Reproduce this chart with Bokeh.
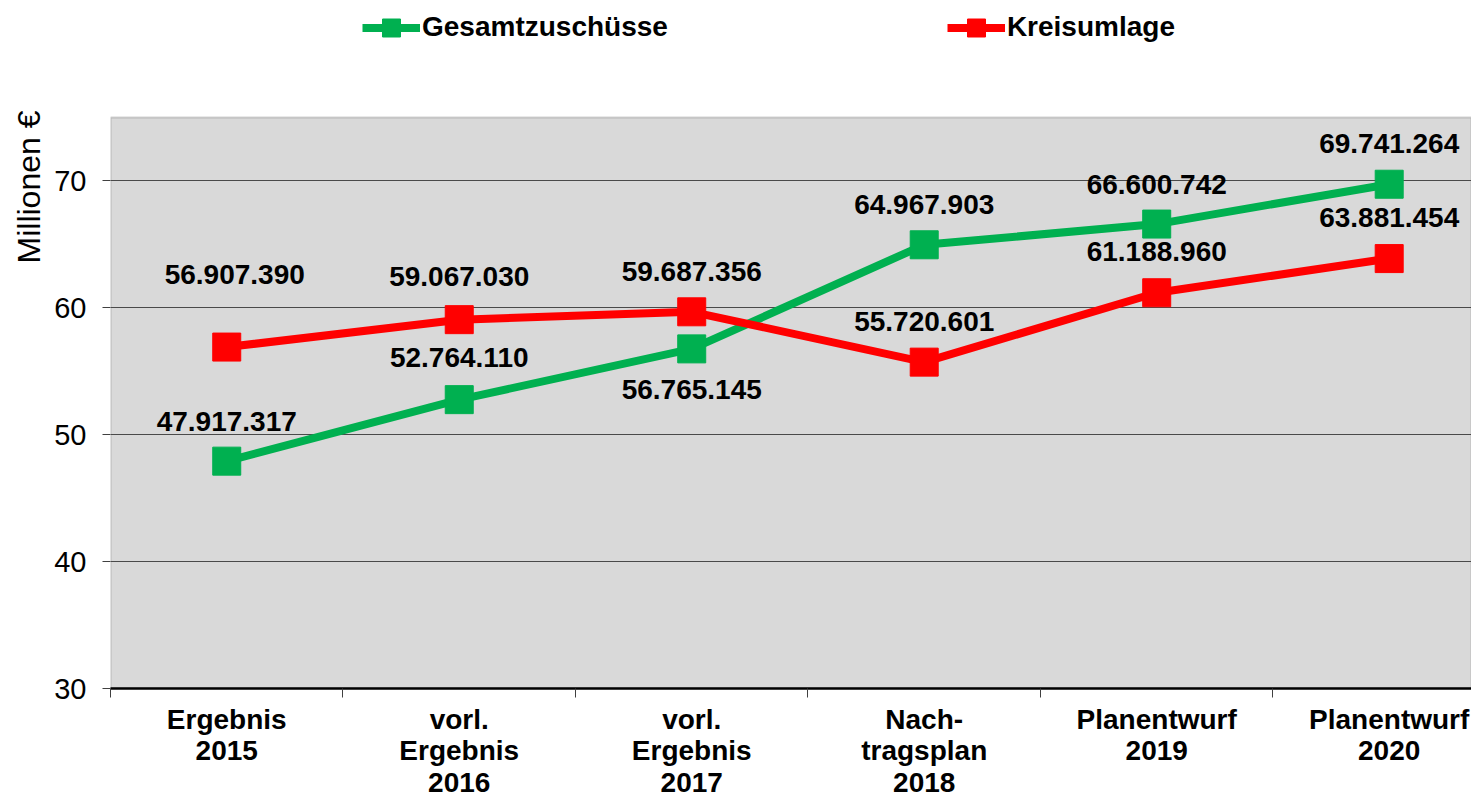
from bokeh.plotting import figure
from bokeh.models import (ColumnDataSource, FixedTicker, Legend, LegendItem, Title, Range1d,
                          BoxAnnotation)
from bokeh.core.properties import value
from bokeh.embed import file_html
from bokeh.resources import INLINE

categories = ["Ergebnis\n2015", "vorl.\nErgebnis\n2016", "vorl.\nErgebnis\n2017",
              "Nach-\ntragsplan\n2018", "Planentwurf\n2019", "Planentwurf\n2020"]
gesamtzuschuesse = [47917317, 52764110, 56765145, 64967903, 66600742, 69741264]
kreisumlage = [56907390, 59067030, 59687356, 55720601, 61188960, 63881454]
y_ticks = [30, 40, 50, 60, 70]
y_min, y_max = 30, 75

# label placement (screen px), kept apart from the data
g_label_dy = [-40, -42, 41, -40, -40, -41]
k_label_dy = [-73, -43, -40, -41, -41, -41]
k_label_dx = [8, 0, 0, 0, 0, 0]

FONT = "Liberation Sans"
FS = "28px"
GREEN = "#00B050"
RED = "#FF0000"

def de(v):
    return f"{v:,}".replace(",", ".")

xs = list(range(len(categories)))
g_src = ColumnDataSource(dict(x=xs, y=[v / 1e6 for v in gesamtzuschuesse],
                              lab=[de(v) for v in gesamtzuschuesse], dy=g_label_dy,
                              dx=[0] * len(xs)))
k_src = ColumnDataSource(dict(x=xs, y=[v / 1e6 for v in kreisumlage],
                              lab=[de(v) for v in kreisumlage], dy=k_label_dy, dx=k_label_dx))

# frame spans from the very top of the figure so the legend can live inside it;
# the grey plot area (30..75) sits 117 px below the top
FRAME_H = 688
PLOT_TOP = 117
y_end = y_min + (y_max - y_min) * FRAME_H / (FRAME_H - PLOT_TOP)

p = figure(frame_width=1361, frame_height=FRAME_H, output_backend="svg",
           toolbar_location=None,
           x_range=Range1d(-0.5, 5.354), y_range=Range1d(y_min, y_end),
           min_border_left=110, min_border_right=0, min_border_top=0, min_border_bottom=0)
p.border_fill_color = "white"
p.background_fill_color = "white"
p.outline_line_color = None

plot_area = BoxAnnotation(bottom=y_min, top=y_max, fill_color="#D9D9D9", fill_alpha=1,
                          line_color="#6e6e6e", line_width=2, level="image")
p.add_layout(plot_area)

# y axis
p.yaxis.ticker = FixedTicker(ticks=y_ticks)
p.yaxis.major_label_text_font = FONT
p.yaxis.major_label_text_font_size = "29px"
p.yaxis.major_label_text_color = "black"
p.yaxis.major_tick_out = 8
p.yaxis.major_tick_in = 0
p.yaxis.minor_tick_out = 0
p.yaxis.minor_tick_in = 0
p.yaxis.axis_line_color = None
p.yaxis.major_tick_line_color = "#404040"
p.yaxis.major_label_standoff = 16
p.ygrid.ticker = FixedTicker(ticks=y_ticks[1:])
p.ygrid.grid_line_color = "#4a4a4a"
p.ygrid.grid_line_width = 1

# x axis: labels at centres, tick marks at category boundaries
p.xaxis.ticker = FixedTicker(ticks=xs, minor_ticks=[i - 0.5 for i in range(len(xs) + 1)])
p.xaxis.major_label_overrides = {i: c for i, c in enumerate(categories)}
p.xaxis.major_label_text_font = FONT
p.xaxis.major_label_text_font_style = "bold"
p.xaxis.major_label_text_font_size = FS
p.xaxis.major_label_text_color = "black"
p.xaxis.major_label_text_line_height = 1.03
p.xaxis.major_tick_out = 0
p.xaxis.major_tick_in = 0
p.xaxis.minor_tick_out = 9
p.xaxis.minor_tick_in = 0
p.xaxis.minor_tick_line_color = "#404040"
p.xaxis.axis_line_color = "black"
p.xaxis.axis_line_width = 2.5
p.xaxis.major_label_standoff = 6
p.xgrid.visible = False

# y axis title placed near the top of the grey area
p.add_layout(Title(text="Millionen €", align="right", text_font=FONT,
                   text_font_size="32px", text_font_style="normal", text_color="black",
                   offset=110, standoff=10), "left")

gl = p.line("x", "y", source=g_src, line_color=GREEN, line_width=8)
gm = p.scatter("x", "y", source=g_src, marker="square", size=28, fill_color=GREEN,
               line_color=GREEN)
kl = p.line("x", "y", source=k_src, line_color=RED, line_width=8)
km = p.scatter("x", "y", source=k_src, marker="square", size=28, fill_color=RED,
               line_color=RED)

for src in (g_src, k_src):
    p.text("x", "y", text="lab", source=src, x_offset="dx", y_offset="dy",
           text_font=value(FONT), text_font_style="bold", text_font_size=FS,
           text_align="center", text_baseline="middle", text_color="black")

legend = Legend(items=[LegendItem(label="Gesamtzuschüsse", renderers=[gl, gm]),
                       LegendItem(label="Kreisumlage", renderers=[kl, km])],
                orientation="horizontal", location=(252, FRAME_H - 27 - 22.5),
                padding=0, margin=0,
                spacing=279, glyph_width=58, glyph_height=45, label_height=30,
                label_standoff=2, border_line_color=None,
                background_fill_alpha=0,
                label_text_font=FONT, label_text_font_style="bold",
                label_text_font_size=FS, label_text_color="black")
p.add_layout(legend, "center")

open("out.html", "w").write(file_html(p, INLINE))
